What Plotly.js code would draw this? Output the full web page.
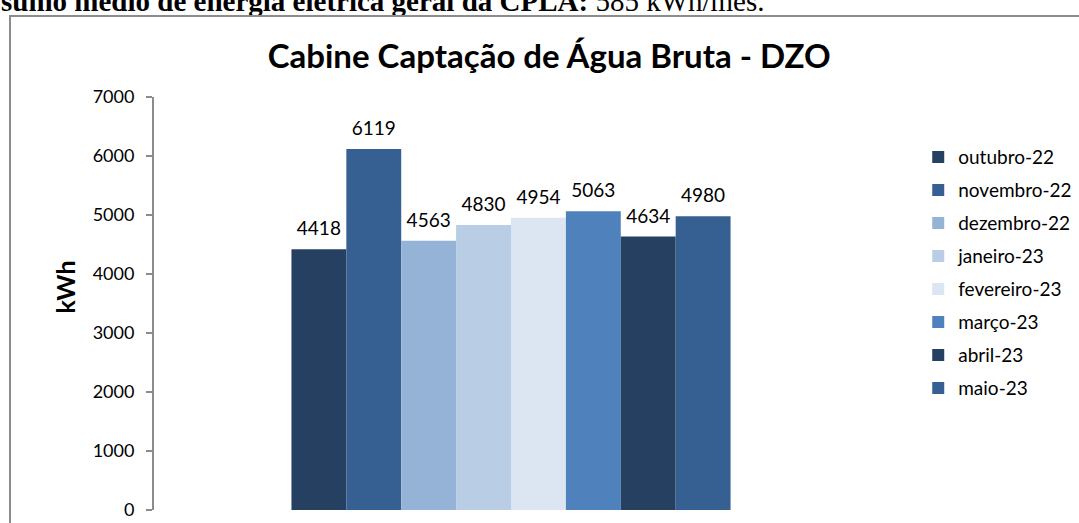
<!DOCTYPE html>
<html>
<head>
<meta charset="utf-8">
<script src="https://cdn.plot.ly/plotly-3.0.1.min.js"></script>
<style>
  html, body { margin:0; padding:0; width:1079px; height:523px; overflow:hidden; background:#fff; }
  #topline { position:absolute; left:1px; top:-13px; font-family:"Liberation Serif","DejaVu Serif",serif; font-size:29px; line-height:29px; color:#000; white-space:nowrap; }
  #frame { position:absolute; left:9px; top:15px; width:2000px; height:2000px; border-left:2px solid #8c8c8c; border-top:2px solid #8c8c8c; pointer-events:none; }
  #chart { position:absolute; left:0; top:0; width:1079px; height:523px; }
</style>
</head>
<body>
<div id="topline"><b>sumo médio de energia elétrica geral da CPLA:</b> 585 kWh/mês.</div>
<div id="frame"></div>
<div id="chart"></div>
<script>
const months = ["outubro-22","novembro-22","dezembro-22","janeiro-23","fevereiro-23","março-23","abril-23","maio-23"];
const consumo = [4418, 6119, 4563, 4830, 4954, 5063, 4634, 4980];
const cores = ["#264061","#376092","#95B3D7","#B9CDE5","#DCE6F2","#4F81BD","#264061","#376092"];
const categoria = [""];
const yTicks = [0,1000,2000,3000,4000,5000,6000,7000];

const font = "Lato, 'Open Sans', sans-serif";
const gap = 0.385;

const bars = months.map((m, i) => ({
  type: "bar",
  name: m,
  x: categoria,
  y: [consumo[i]],
  offsetgroup: "g" + i,
  marker: { color: cores[i], line: { width: 0 } },
  legendgroup: "g" + i,
  hoverinfo: "skip"
}));

const labels = months.map((m, i) => ({
  type: "scatter",
  mode: "markers+text",
  name: m,
  x: categoria,
  y: [consumo[i]],
  offsetgroup: "g" + i,
  marker: { size: 13, color: "rgba(0,0,0,0)" },
  text: [String(consumo[i])],
  textposition: "top center",
  textfont: { family: font, size: 19, color: "#000" },
  cliponaxis: false,
  showlegend: false,
  hoverinfo: "skip"
}));

const layout = {
  width: 1079, height: 523,
  paper_bgcolor: "rgba(0,0,0,0)",
  plot_bgcolor: "rgba(0,0,0,0)",
  margin: { l: 154, r: 211, t: 97, b: 13 },
  barmode: "group",
  bargap: gap,
  bargroupgap: 0,
  scattermode: "group",
  scattergap: gap,
  showlegend: true,
  font: { family: font, color: "#000" },
  title: {
    text: "<b>Cabine Captação de Água Bruta - DZO</b>",
    font: { family: font, size: 33, color: "#000" },
    xref: "container", x: 0.509, xanchor: "center",
    yref: "container", y: 0.893, yanchor: "middle"
  },
  xaxis: {
    showticklabels: false, showline: false, showgrid: false, zeroline: false, ticks: ""
  },
  yaxis: {
    range: [0, 7000],
    tickvals: yTicks,
    ticktext: yTicks.map(String),
    showline: true, linecolor: "#8c8c8c", linewidth: 2,
    ticks: "outside", ticklen: 6, tickcolor: "#8c8c8c", tickwidth: 2,
    ticklabelstandoff: 8,
    showgrid: false, zeroline: false,
    tickfont: { family: font, size: 18, color: "#000" }
  },
  annotations: [{
    text: "<b>kWh</b>",
    xref: "paper", yref: "paper",
    x: -0.124, y: 0.54, xanchor: "center", yanchor: "middle",
    textangle: -90, showarrow: false,
    font: { family: font, size: 25, color: "#000" }
  }],
  legend: {
    xref: "container", x: 0.851, xanchor: "left",
    yref: "container", y: 0.736, yanchor: "top",
    font: { family: font, size: 19, color: "#000" },
    tracegroupgap: 5.3,
    maxheight: 480,
    bgcolor: "rgba(0,0,0,0)"
  }
};

Plotly.newPlot("chart", bars.concat(labels), layout, { displayModeBar: false, staticPlot: true });
</script>
</body>
</html>
